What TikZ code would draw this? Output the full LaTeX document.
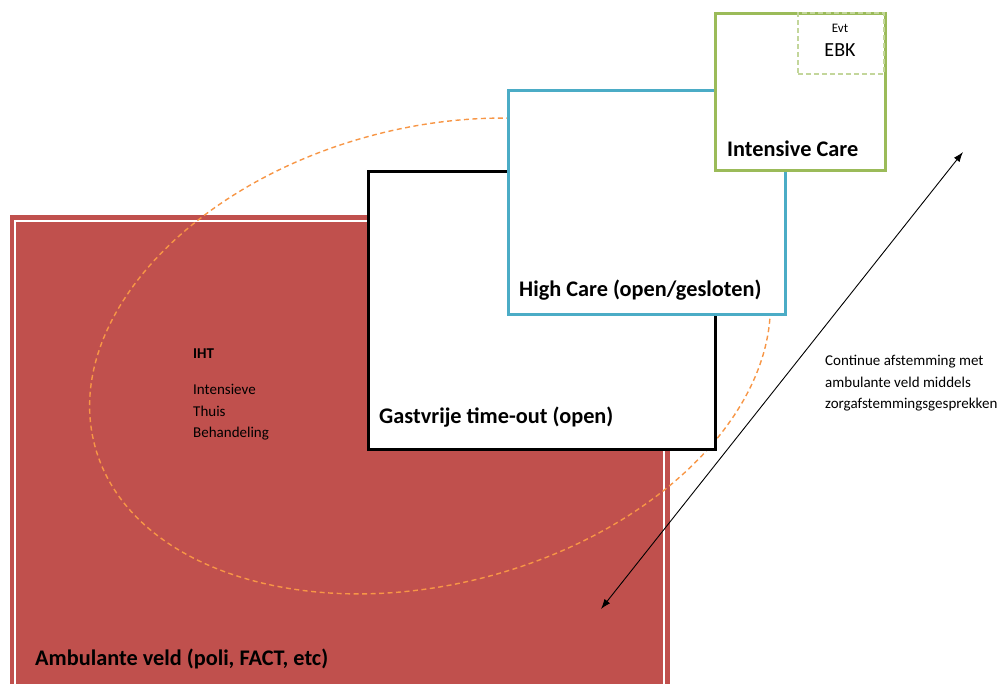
\documentclass[tikz,border=0pt]{standalone}
\usepackage{fontspec}
\setmainfont{Carlito}
\usetikzlibrary{arrows.meta,shapes.geometric}
\definecolor{ambred}{HTML}{C0504D}
\definecolor{ovorange}{HTML}{F79646}
\definecolor{hcblue}{HTML}{4BACC6}
\definecolor{icgreen}{HTML}{9BBB59}
\definecolor{ebkgreen}{HTML}{C3D69B}
\tikzset{
  careBox/.style={draw, line width=3pt, fill=white, minimum width=#1, inner sep=0pt, anchor=north west},
  bigLabel/.style={font=\fontsize{22.3}{26}\selectfont\bfseries, inner sep=0pt, anchor=base west},
  smallText/.style={font=\fontsize{15}{21.5}\selectfont, inner sep=0pt, anchor=base west, align=left},
}
\begin{document}
\begin{tikzpicture}[x=1pt,y=-1pt]
\useasboundingbox (0,0) rectangle (1002,684);
\clip (0,0) rectangle (1002,684);
% Ambulante veld
\node[fill=ambred, minimum width=660.5pt, minimum height=480pt, inner sep=0pt, anchor=north west] (amb) at (9.5,215) {};
\draw[white, line width=2pt] (15,700) -- (15,221) -- (664,221) -- (664,700);
% ellipse
\node[draw=ovorange, dashed, dash pattern=on 5pt off 3.5pt, line width=1.4pt, ellipse, minimum width=694pt, minimum height=456pt, inner sep=0pt, rotate=15] (iht) at (430,356) {};
% boxes
\node[careBox=347pt, draw=black, minimum height=278pt] (gto) at (367,170) {};
\node[careBox=277pt, draw=hcblue, minimum height=224pt] (hc) at (506.5,89) {};
\node[careBox=170pt, draw=icgreen, minimum height=157pt] (ic) at (713.5,12.5) {};
\node[draw=ebkgreen, dashed, dash pattern=on 5pt off 3pt, line width=1.5pt, minimum width=86pt, minimum height=61pt, inner sep=0pt, anchor=north west] (ebk) at (797,12.5) {};
% labels
\node[bigLabel] (ambL) at (35,665) {Ambulante veld (poli, FACT, etc)};
\node[bigLabel] (gtoL) at (379,424) {Gastvrije time-out (open)};
\node[bigLabel] (hcL) at (519,297) {High Care (open/gesloten)};
\node[bigLabel] (icL) at (727,157) {Intensive Care};
\node[font=\fontsize{13}{15}\selectfont, inner sep=0pt, anchor=base] (evt) at (840,33) {Evt};
\node[font=\fontsize{20}{24}\selectfont, inner sep=0pt, anchor=base] (ebkL) at (840,57) {EBK};
\node[font=\fontsize{15}{18}\selectfont\bfseries, inner sep=0pt, anchor=base west] (ihtL) at (193,359) {IHT};
\node[smallText] (ihtT) at (193,438) {Intensieve\\Thuis\\Behandeling};
\node[smallText] (cont) at (825,409) {Continue afstemming met\\ambulante veld middels\\zorgafstemmingsgesprekken};
% arrow
\coordinate (aTop) at (963,152);
\coordinate (aBot) at (601,609);
\draw[line width=0.9pt, {Latex[length=10pt,width=7pt]}-{Latex[length=10pt,width=7pt]}] (aBot) -- (aTop);
\end{tikzpicture}
\end{document}
